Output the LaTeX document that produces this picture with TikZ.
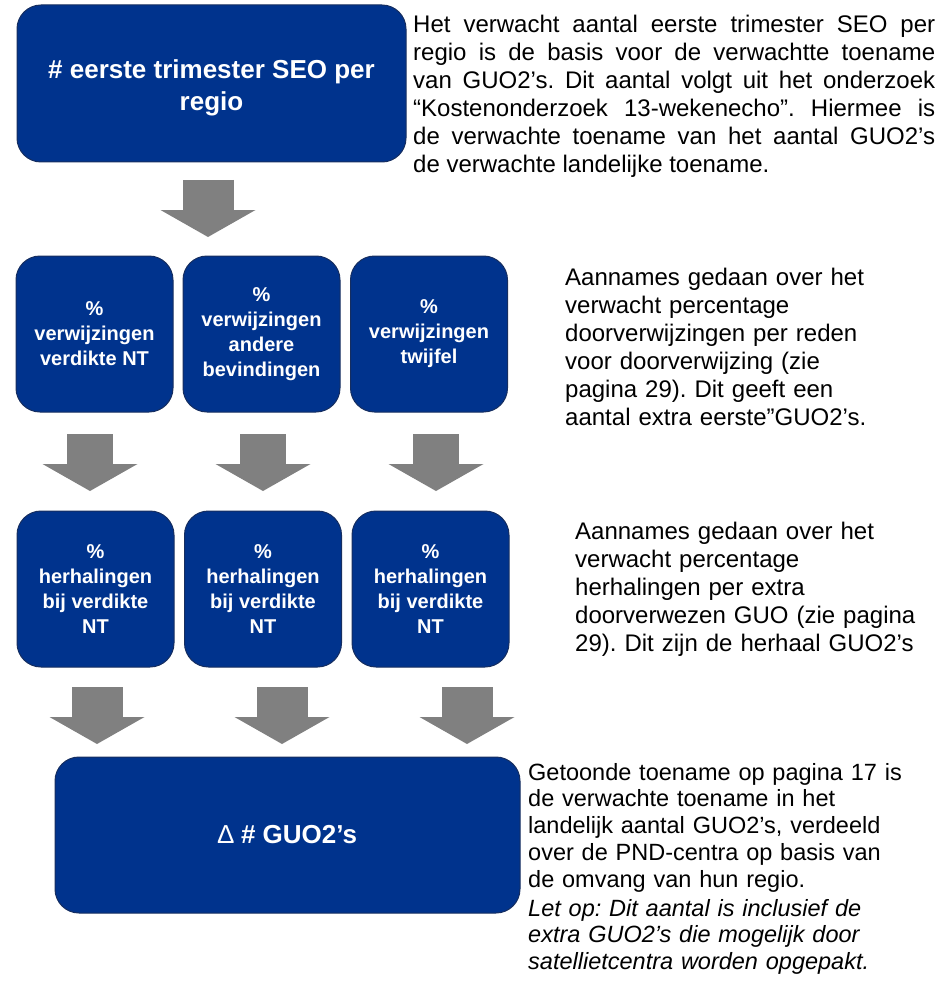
\documentclass[tikz,border=0pt]{standalone}
\usepackage{fontspec}
\setmainfont{Liberation Sans}
\usetikzlibrary{arrows.meta}
\definecolor{boxblue}{RGB}{0,51,141}
\definecolor{boxline}{RGB}{22,46,96}
\definecolor{arrowgray}{RGB}{128,128,128}
\frenchspacing

\begin{document}
\begin{tikzpicture}[x = 1pt, y = -1pt]
\tikzstyle{BoxStyle}=[
shape = rectangle,
rounded corners = 24pt,
fill = boxblue,
draw = boxline,
line width = 1pt,
text = white,
align = center,
font = \fontsize{20}{25}\selectfont\bfseries,
minimum width = 157pt,
minimum height = 156pt,
inner sep = 0pt]
\tikzstyle{BigBoxStyle}=[
BoxStyle,
font = \fontsize{26}{32}\selectfont\bfseries,
minimum height = 157pt]
\tikzstyle{ArrowStyle}=[
draw = arrowgray,
line width = 51pt,
-{Triangle[length = 27pt, width = 95pt, line width = 0pt]}]
\tikzstyle{NoteStyle}=[
anchor = north west,
inner sep = 0pt,
align = left,
text width = 420pt,
font = \fontsize{24}{28}\selectfont]
\useasboundingbox (0,0) rectangle (945,995);
\node[BigBoxStyle, minimum width = 389pt] (b1) at (211.5,83.5) {\rule{0pt}{27pt}\# eerste trimester SEO per\\regio};
\node[BoxStyle] (b2) at (94.5,334) {\%\\verwijzingen\\verdikte NT};
\node[BoxStyle] (b3) at (261.5,334) {\%\\verwijzingen\\andere\\bevindingen};
\node[BoxStyle] (b4) at (429,334) {\%\\verwijzingen\\twijfel};
\node[BoxStyle] (b5) at (95.5,589) {\%\\herhalingen\\bij verdikte\\NT};
\node[BoxStyle] (b6) at (263,589) {\%\\herhalingen\\bij verdikte\\NT};
\node[BoxStyle] (b7) at (430.5,589) {\%\\herhalingen\\bij verdikte\\NT};
\node[BigBoxStyle, minimum width = 465pt, minimum height = 156pt] (b8) at (287.5,835) {{\mdseries ∆} \# GUO2’s};
\coordinate (p1) at (208,180);
\coordinate (p2) at (208,237);
\coordinate (p3) at (90,434);
\coordinate (p4) at (90,491);
\coordinate (p5) at (263,434);
\coordinate (p6) at (263,491);
\coordinate (p7) at (436,434);
\coordinate (p8) at (436,491);
\coordinate (p9) at (97,687);
\coordinate (p10) at (97,744);
\coordinate (p11) at (282,687);
\coordinate (p12) at (282,744);
\coordinate (p13) at (467,687);
\coordinate (p14) at (467,744);
\draw[ArrowStyle] (p1) -- (p2);
\draw[ArrowStyle, line width = 46pt] (p3) -- (p4);
\draw[ArrowStyle, line width = 46pt] (p5) -- (p6);
\draw[ArrowStyle, line width = 46pt] (p7) -- (p8);
\draw[ArrowStyle] (p9) -- (p10);
\draw[ArrowStyle] (p11) -- (p12);
\draw[ArrowStyle] (p13) -- (p14);
\node[NoteStyle, text width = 522pt, align = justify] (t1) at (413,15) {Het verwacht aantal eerste trimester SEO per\linebreak regio is de basis voor de verwachtte toename\linebreak van GUO2’s. Dit aantal volgt uit het onderzoek\linebreak “Kostenonderzoek 13-wekenecho”. Hiermee is\linebreak de verwachte toename van het aantal GUO2’s\linebreak de verwachte landelijke toename.};
\node[NoteStyle] (t2) at (565,268) {Aannames gedaan over het\\verwacht percentage\\doorverwijzingen per reden\\voor doorverwijzing (zie\\pagina 29). Dit geeft een\\aantal extra eerste”GUO2’s.};
\node[NoteStyle] (t3) at (575,522) {Aannames gedaan over het\\verwacht percentage\\herhalingen per extra\\doorverwezen GUO (zie pagina\\29). Dit zijn de herhaal GUO2’s};
\node[NoteStyle, font = \fontsize{23.5}{26.7}\selectfont] (t4) at (528,763) {Getoonde toename op pagina 17 is\\de verwachte toename in het\\landelijk aantal GUO2’s, verdeeld\\over de PND-centra op basis van\\de omvang van hun regio.\par\vspace{2.5pt}\itshape Let op: Dit aantal is inclusief de\\extra GUO2’s die mogelijk door\\satellietcentra worden opgepakt.};
\end{tikzpicture}
\end{document}
